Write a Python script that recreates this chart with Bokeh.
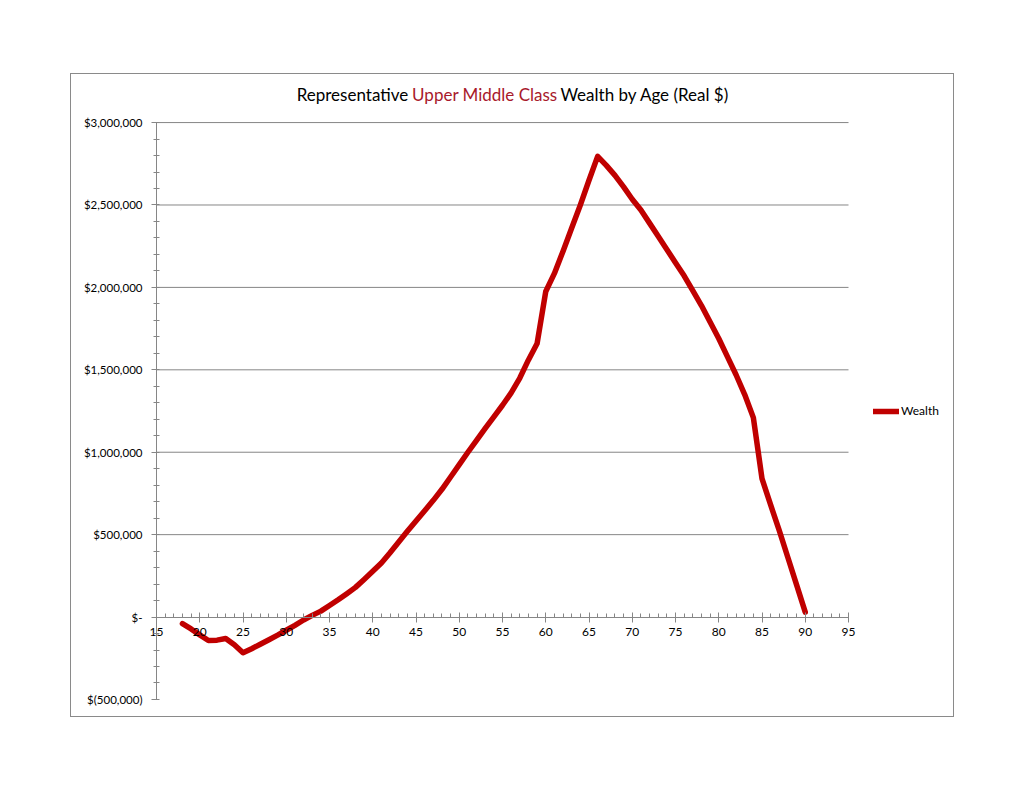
from bokeh.plotting import figure
from bokeh.models import FixedTicker, Legend, LegendItem, Label, Range1d, Spacer
from bokeh.layouts import column, row
from bokeh.embed import file_html
from bokeh.resources import INLINE

# ---- data ----
ages = list(range(18, 91))
wealth = [
    -40000, -72000, -108000, -142000, -140000, -130000, -168000, -217000,   # 18-25
    -192000, -165000, -138000, -110000, -80000, -50000, -18000, 10000,      # 26-33
    36000, 70000, 105000, 142000, 180000, 228000, 278000, 328000,           # 34-41
    390000, 455000, 520000, 583000, 645000, 708000, 775000, 850000,         # 42-49
    925000, 1000000, 1072000, 1145000, 1215000, 1285000, 1360000, 1450000,  # 50-57
    1560000, 1660000, 1975000, 2085000, 2220000, 2360000, 2500000, 2650000, # 58-65
    2795000, 2740000, 2680000, 2610000, 2535000, 2470000, 2390000, 2310000, # 66-73
    2230000, 2150000, 2070000, 1980000, 1890000, 1790000, 1690000, 1580000, # 74-81
    1470000, 1350000, 1210000, 840000, 680000, 525000, 360000, 195000,      # 82-89
    30000,                                                                  # 90
]
x_ticks = [15, 20, 25, 30, 35, 40, 45, 50, 55, 60, 65, 70, 75, 80, 85, 90, 95]
y_ticks = [-500000, 0, 500000, 1000000, 1500000, 2000000, 2500000, 3000000]
y_labels = ["$(500,000)", "$-", "$500,000", "$1,000,000", "$1,500,000",
            "$2,000,000", "$2,500,000", "$3,000,000"]
series_name = "Wealth"
title_parts = ["Representative", "Upper Middle Class", "Wealth by Age (Real $)"]

LINE = "#C00000"
TITLE_RED = "#A8192B"
GRAY = "#868686"
FONT = "Lato"

W, H = 884, 644
LEFT = 85                 # distance from box edge to the y axis
PX_PER_YEAR = 8.65
PX_PER_500K = 576 / 7.0
TOP_PAD, BOTTOM_PAD = 48, 19

x0, x1 = x_ticks[0], x_ticks[-1]
y0, y1 = y_ticks[0], y_ticks[-1]
x_start = x0 - LEFT / PX_PER_YEAR
x_end = x0 + (W - LEFT) / PX_PER_YEAR
y_top = y1 + TOP_PAD / PX_PER_500K * 500000
y_bot = y0 - BOTTOM_PAD / PX_PER_500K * 500000

p = figure(width=W, height=H, output_backend="svg", toolbar_location=None,
           title=None,
           x_range=Range1d(x_start, x_end), y_range=Range1d(y_bot, y_top),
           min_border_left=0, min_border_right=0, min_border_top=0,
           min_border_bottom=0, outline_line_color=None,
           background_fill_color="white", border_fill_color="white")
p.styles = {"border": "1px solid #8a8a8a"}

# x axis crossing at zero
xa = p.xaxis[0]
xa.fixed_location = 0
xa.bounds = (x0, x1)
xa.ticker = FixedTicker(ticks=x_ticks, minor_ticks=list(range(x0, x1 + 1)))
xa.axis_line_color = GRAY
xa.major_tick_line_color = GRAY
xa.minor_tick_line_color = GRAY
xa.major_tick_in = 5
xa.major_tick_out = 5
xa.minor_tick_in = 4
xa.minor_tick_out = 0
xa.major_label_standoff = 6
xa.major_label_text_font = FONT
xa.major_label_text_font_size = "12px"
xa.major_label_text_color = "black"

# y axis at age 15
ya = p.yaxis[0]
ya.fixed_location = x0
ya.bounds = (y0, y1)
ya.ticker = FixedTicker(ticks=y_ticks,
                        minor_ticks=list(range(y0, y1 + 1, 100000)))
ya.major_label_overrides = {t: l for t, l in zip(y_ticks, y_labels)}
ya.axis_line_color = GRAY
ya.major_tick_line_color = GRAY
ya.minor_tick_line_color = GRAY
ya.major_tick_in = 0
ya.major_tick_out = 5
ya.minor_tick_in = 3
ya.minor_tick_out = 3
ya.major_label_standoff = 9
ya.major_label_text_font = FONT
ya.major_label_text_font_size = "11.5px"
ya.major_label_text_color = "black"

p.xgrid.visible = False
p.ygrid.visible = False

# horizontal gridlines, limited to the x tick span
grid_y = [t for t in y_ticks if t > 0]
p.segment(x0=[x0] * len(grid_y), x1=[x1] * len(grid_y), y0=grid_y, y1=grid_y,
          line_color=GRAY, line_width=1)

r = p.line(ages, wealth, line_color=LINE, line_width=5.5, line_join="round",
           line_cap="round")

legend = Legend(items=[LegendItem(label=series_name, renderers=[r])],
                location=(802, 300), margin=0, padding=0, spacing=0,
                glyph_width=26, glyph_height=12, label_standoff=2,
                label_text_font=FONT, label_text_font_size="12px",
                label_text_color="black",
                border_line_color=None, background_fill_alpha=0)
p.add_layout(legend)

# multi-coloured title
ty = y1 + 170000
p.add_layout(Label(x=44.1, y=ty, text=title_parts[0], text_font=FONT,
                   text_font_size="17px", text_color="black",
                   text_align="right", text_baseline="middle"))
p.add_layout(Label(x=44.55, y=ty, text=title_parts[1], text_font=FONT,
                   text_font_size="17px", text_color=TITLE_RED,
                   text_align="left", text_baseline="middle"))
p.add_layout(Label(x=61.7, y=ty, text=title_parts[2], text_font=FONT,
                   text_font_size="17px", text_color="black",
                   text_align="left", text_baseline="middle"))

layout = column(Spacer(height=73), row(Spacer(width=70), p))
open("out.html", "w").write(file_html(layout, INLINE))
